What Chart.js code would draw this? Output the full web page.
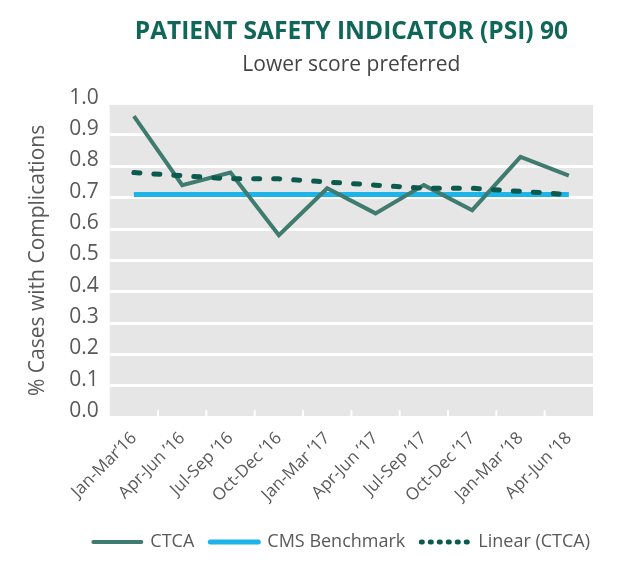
<!DOCTYPE html>
<html>
<head>
<meta charset="utf-8">
<script src="https://cdn.jsdelivr.net/npm/chart.js@4.4.0/dist/chart.umd.min.js"></script>
<style>
  html, body { margin: 0; padding: 0; background: #fff; }
</style>
</head>
<body>
<canvas id="psiChart" width="628" height="570"></canvas>
<script>
// quarters on the x axis
const quarters = ["Jan-Mar\u201916", "Apr-Jun \u201916", "Jul-Sep \u201916", "Oct-Dec \u201916", "Jan-Mar \u201917",
  "Apr-Jun \u201917", "Jul-Sep \u201917", "Oct-Dec \u201917", "Jan-Mar \u201918", "Apr-Jun \u201918"];

// values
const ctcaValues = [0.96, 0.74, 0.78, 0.58, 0.73, 0.65, 0.74, 0.66, 0.83, 0.77];
const benchmarkValues = [0.71, 0.71, 0.71, 0.71, 0.71, 0.71, 0.71, 0.71, 0.71, 0.71];
const trendValues = [0.78, 0.77, 0.76, 0.76, 0.75, 0.74, 0.73, 0.73, 0.72, 0.71];

const seriesNames = ["CTCA", "CMS Benchmark", "Linear (CTCA)"];
const yTicks = [0, 0.1, 0.2, 0.3, 0.4, 0.5, 0.6, 0.7, 0.8, 0.9, 1.0];

const FONT = "'Open Sans', 'Noto Sans', sans-serif";
const TEXT = "#595959";

// gray plot background + little white notches at category borders
const plotBg = {
  id: "plotBg",
  afterLayout(chart) {
    // nudge the legend a little to the right, like the original
    chart.legend.left += 13;
    chart.legend.right += 13;
  },
  beforeDraw(chart) {
    const { ctx, chartArea: a } = chart;
    ctx.save();
    ctx.fillStyle = "#e6e6e6";
    ctx.fillRect(a.left, a.top, a.right - a.left, a.bottom - a.top);
    ctx.restore();
  },
  beforeDatasetsDraw(chart) {
    const { ctx, chartArea: a, scales } = chart;
    const x = scales.x;
    const half = (x.getPixelForValue(1) - x.getPixelForValue(0)) / 2;
    ctx.save();
    ctx.strokeStyle = "#ffffff";
    ctx.lineWidth = 2;
    for (let i = 0; i < quarters.length - 1; i++) {
      const px = x.getPixelForValue(i) + half;
      ctx.beginPath();
      ctx.moveTo(px, a.bottom - 7);
      ctx.lineTo(px, a.bottom);
      ctx.stroke();
    }
    ctx.restore();
  }
};

const ctx = document.getElementById("psiChart").getContext("2d");
new Chart(ctx, {
  type: "line",
  data: {
    labels: quarters,
    datasets: [
      {
        label: seriesNames[0],
        data: ctcaValues,
        borderColor: "#3f7b6e",
        backgroundColor: "#3f7b6e",
        borderWidth: 4,
        pointRadius: 0,
        tension: 0,
        order: 2
      },
      {
        label: seriesNames[1],
        data: benchmarkValues,
        borderColor: "#1cb4e9",
        backgroundColor: "#1cb4e9",
        borderWidth: 5,
        pointRadius: 0,
        order: 3
      },
      {
        label: seriesNames[2],
        data: trendValues,
        borderColor: "#0c5a4d",
        backgroundColor: "#0c5a4d",
        borderWidth: 5,
        borderDash: [6, 14],
        borderCapStyle: "round",
        pointRadius: 0,
        order: 1
      }
    ]
  },
  options: {
    responsive: false,
    animation: false,
    layout: { padding: { left: 25, right: 35, top: 8, bottom: 9 } },
    plugins: {
      title: {
        display: true,
        fullSize: false,
        text: "PATIENT SAFETY INDICATOR (PSI) 90",
        color: "#11665a",
        font: { family: FONT, size: 24.5, weight: "bold" },
        padding: { top: 9, bottom: 3 }
      },
      subtitle: {
        display: true,
        fullSize: false,
        text: "Lower score preferred",
        color: "#444444",
        font: { family: FONT, size: 21, weight: "normal" },
        padding: { top: 3, bottom: 26 }
      },
      legend: {
        position: "bottom",
        align: "end",
        labels: {
          usePointStyle: true,
          pointStyle: "line",
          pointStyleWidth: 48,
          padding: 16,
          color: TEXT,
          font: { family: FONT, size: 18 },
          sort: (a, b) => a.datasetIndex - b.datasetIndex,
          generateLabels(chart) {
            const items = Chart.defaults.plugins.legend.labels.generateLabels(chart);
            items.forEach(it => {
              it.lineCap = "round";
              if (it.datasetIndex === 2) it.lineDash = [1, 8];
            });
            return items;
          }
        }
      },
      tooltip: { enabled: false }
    },
    scales: {
      x: {
        offset: true,
        grid: { display: false },
        border: { display: false },
        afterFit(scale) { scale.height += 8; },
        ticks: {
          minRotation: 45,
          maxRotation: 45,
          autoSkip: false,
          color: TEXT,
          padding: 3,
          font: { family: FONT, size: 17 }
        }
      },
      y: {
        min: 0,
        max: 1.0,
        afterBuildTicks(scale) { scale.ticks = yTicks.map(v => ({ value: v })); },
        grid: { color: "#ffffff", lineWidth: 3, drawTicks: false },
        border: { display: false },
        ticks: {
          color: TEXT,
          padding: 11,
          labelOffset: -6,
          font: { family: FONT, size: 21 },
          callback: v => Number(v).toFixed(1)
        },
        title: {
          display: true,
          text: "% Cases with Complications",
          color: TEXT,
          font: { family: FONT, size: 21 },
          padding: { top: 0, bottom: 8 }
        }
      }
    }
  },
  plugins: [plotBg]
});
</script>
</body>
</html>
